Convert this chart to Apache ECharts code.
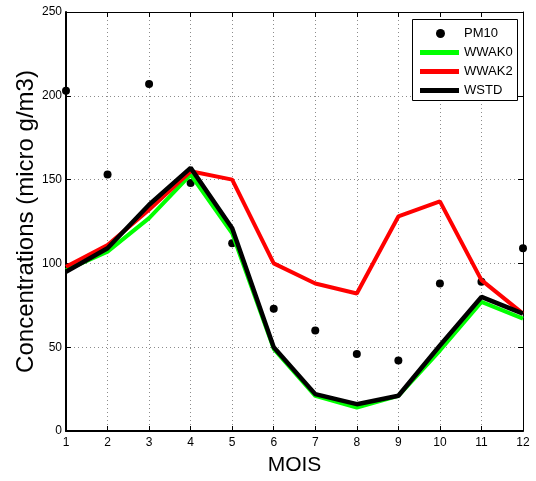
<!DOCTYPE html>
<html>
<head>
<meta charset="utf-8">
<script src="https://cdn.jsdelivr.net/npm/echarts@6/dist/echarts.min.js"></script>
<style>html,body{margin:0;padding:0;background:#fff}#c{width:536px;height:481px}</style>
</head>
<body>
<div id="c"></div>
<script>
var months = [1,2,3,4,5,6,7,8,9,10,11,12];
var pm10  = [203,153,207,148,112,73,60,46,42,88,89,109];
var wwak0 = [96,107,127,153,118,49,21,14,21,48,77,67];
var wwak2 = [98,111,132,155,150,100,88,82,128,137,90,70];
var wstd  = [95,109,135,157,121,50,22,16,21,51,80,70];
var yTicks = [0,50,100,150,200,250];

function pairs(v){ return months.map(function(m,i){ return [m, v[i]]; }); }
var FONT = 'Liberation Sans';
var chart = echarts.init(document.getElementById('c'), null, {renderer:'canvas'});
var gridLine = {show:true, lineStyle:{color:'#8c8c8c', type:[1,3], width:1}};
chart.setOption({
  animation:false,
  textStyle:{fontFamily:FONT},
  grid:{left:66, right:13, top:12, bottom:49, containLabel:false},
  xAxis:[{
    type:'value', min:1, max:12, interval:1, position:'bottom',
    name:'MOIS', nameLocation:'middle', nameGap:24,
    nameTextStyle:{fontSize:21, color:'#000', fontFamily:FONT},
    axisLine:{show:true, onZero:false, lineStyle:{color:'#000', width:2}},
    axisTick:{show:true, inside:true, length:5, lineStyle:{color:'#000'}},
    axisLabel:{color:'#000', fontSize:12, margin:6, fontFamily:FONT},
    splitLine:gridLine
  },{
    type:'value', min:1, max:12, interval:1, position:'top',
    axisLine:{show:true, onZero:false, lineStyle:{color:'#000', width:1}},
    axisTick:{show:true, inside:true, length:5, lineStyle:{color:'#000'}},
    axisLabel:{show:false}, splitLine:{show:false}
  }],
  yAxis:[{
    type:'value', min:0, max:250, interval:50, position:'left',
    name:'Concentrations (micro g/m3)', nameLocation:'middle', nameGap:28, nameMoveOverlap:false,
    nameTextStyle:{fontSize:24, color:'#000', fontFamily:FONT},
    axisLine:{show:true, onZero:false, lineStyle:{color:'#000', width:2}},
    axisTick:{show:true, inside:true, length:5, lineStyle:{color:'#000'}},
    axisLabel:{color:'#000', fontSize:12, margin:4, fontFamily:FONT},
    splitLine:gridLine
  },{
    type:'value', min:0, max:250, interval:50, position:'right',
    axisLine:{show:true, onZero:false, lineStyle:{color:'#000', width:1}},
    axisTick:{show:true, inside:true, length:5, lineStyle:{color:'#000'}},
    axisLabel:{show:false}, splitLine:{show:false}
  }],
  legend:[{
    data:[{name:'PM10', icon:'circle'}],
    orient:'vertical', left:431, top:22, itemWidth:9, itemHeight:9, itemGap:5,
    itemStyle:{opacity:1},
    textStyle:{fontSize:13, color:'#000', fontFamily:FONT, padding:[0,0,0,14]}, z:20
  },{
    data:[{name:'WWAK0', icon:'rect'},{name:'WWAK2', icon:'rect'},{name:'WSTD', icon:'rect'}],
    orient:'vertical', left:415, top:41, itemWidth:39, itemHeight:5, itemGap:6,
    textStyle:{fontSize:13, color:'#000', fontFamily:FONT}, z:20
  }],
  graphic:[{type:'rect', shape:{x:412.5, y:19.5, width:105, height:81}, style:{fill:'#fff', stroke:'#000', lineWidth:1}, z:15}],
  series:[
    {name:'PM10', type:'scatter', data:pairs(pm10), symbol:'circle', symbolSize:8, itemStyle:{color:'#000', opacity:1}, z:2},
    {name:'WWAK0', type:'line', data:pairs(wwak0), symbol:'none', lineStyle:{color:'#00ff00', width:4}, itemStyle:{color:'#00ff00'}, z:3},
    {name:'WWAK2', type:'line', data:pairs(wwak2), symbol:'none', lineStyle:{color:'#ff0000', width:4}, itemStyle:{color:'#ff0000'}, z:4},
    {name:'WSTD', type:'line', data:pairs(wstd), symbol:'none', lineStyle:{color:'#000', width:4.5}, itemStyle:{color:'#000'}, z:5}
  ]
});
</script>
</body>
</html>
